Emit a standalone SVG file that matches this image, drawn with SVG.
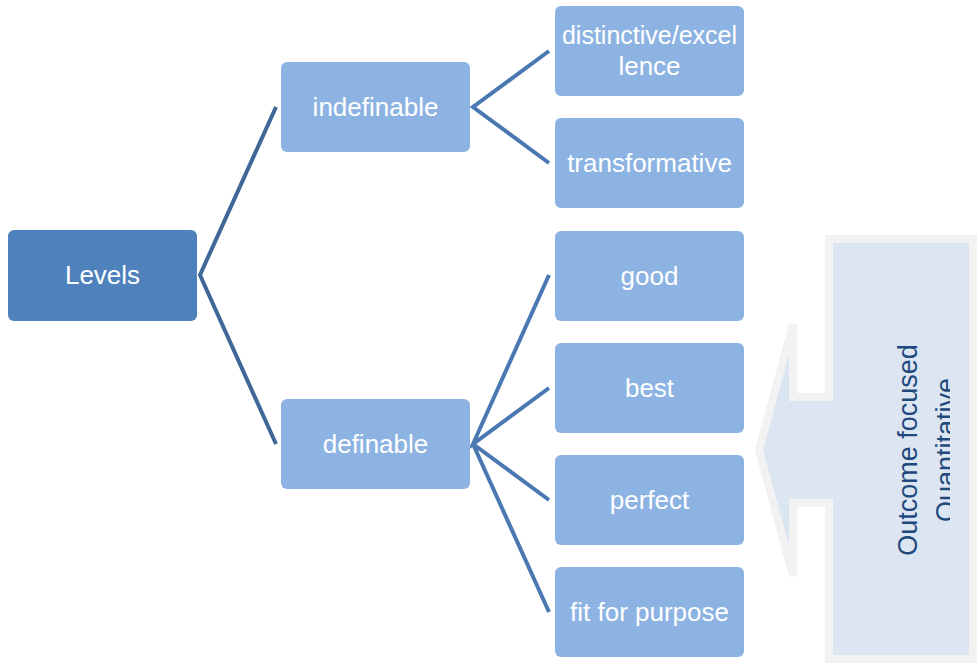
<svg xmlns="http://www.w3.org/2000/svg" width="978" height="663" viewBox="0 0 978 663">
<style>
.node rect{fill:#8db3e2;}
.root rect{fill:#4f81bd;}
.t{font-family:"Liberation Sans",Arial,sans-serif;font-size:26px;fill:#ffffff;text-anchor:middle;}
.c1{stroke:#3f6797;stroke-width:4;fill:none;}
.c2{stroke:#4a78b2;stroke-width:4;fill:none;}
.ct{font-family:"Liberation Sans",Arial,sans-serif;font-size:27px;fill:#1f497d;text-anchor:middle;}
</style>
<defs>
<clipPath id="clipC"><rect x="833" y="243" width="117" height="414"/></clipPath>
</defs>
<rect width="978" height="663" fill="#ffffff"/>
<g id="connectors">
<path class="c1" d="M276,107 L200,275 L276,444"/>
<path class="c2" d="M549,51 L473,107 L549,163"/>
<path class="c2" d="M549,275 L473,444 L549,388 M473,444 L549,500 M473,444 L549,612"/>
</g>
<g id="levels" class="root"><rect x="8" y="230" width="189" height="91" rx="6"/><text class="t" x="102.5" y="284">Levels</text></g>
<g id="indefinable" class="node"><rect x="281" y="62" width="189" height="90" rx="6"/><text class="t" x="375.5" y="116">indefinable</text></g>
<g id="definable" class="node"><rect x="281" y="399" width="189" height="90" rx="6"/><text class="t" x="375.5" y="453">definable</text></g>
<g id="distinctive" class="node"><rect x="555" y="6" width="189" height="90" rx="6"/><text class="t" x="649.5" y="44" style="font-size:25px">distinctive/excel</text><text class="t" x="649.5" y="75">lence</text></g>
<g id="transformative" class="node"><rect x="555" y="118" width="189" height="90" rx="6"/><text class="t" x="649.5" y="172">transformative</text></g>
<g id="good" class="node"><rect x="555" y="231" width="189" height="90" rx="6"/><text class="t" x="649.5" y="285">good</text></g>
<g id="best" class="node"><rect x="555" y="343" width="189" height="90" rx="6"/><text class="t" x="649.5" y="397">best</text></g>
<g id="perfect" class="node"><rect x="555" y="455" width="189" height="90" rx="6"/><text class="t" x="649.5" y="509">perfect</text></g>
<g id="fit" class="node"><rect x="555" y="567" width="189" height="90" rx="6"/><text class="t" x="649.5" y="621">fit for purpose</text></g>
<g id="callout">
<path d="M829,239 L973,239 L973,659 L829,659 L829,503 L793,503 L793,576 L759,450 L793,324 L793,397 L829,397 Z" fill="#dce6f2" stroke="#f2f2f2" stroke-width="8" stroke-linejoin="miter"/>
<g clip-path="url(#clipC)">
<text class="ct" transform="translate(917,450) rotate(-90)" x="0" y="0">Outcome focused</text>
<text class="ct" transform="translate(955,450) rotate(-90)" x="0" y="0">Quantitative</text>
</g>
</g>
</svg>
